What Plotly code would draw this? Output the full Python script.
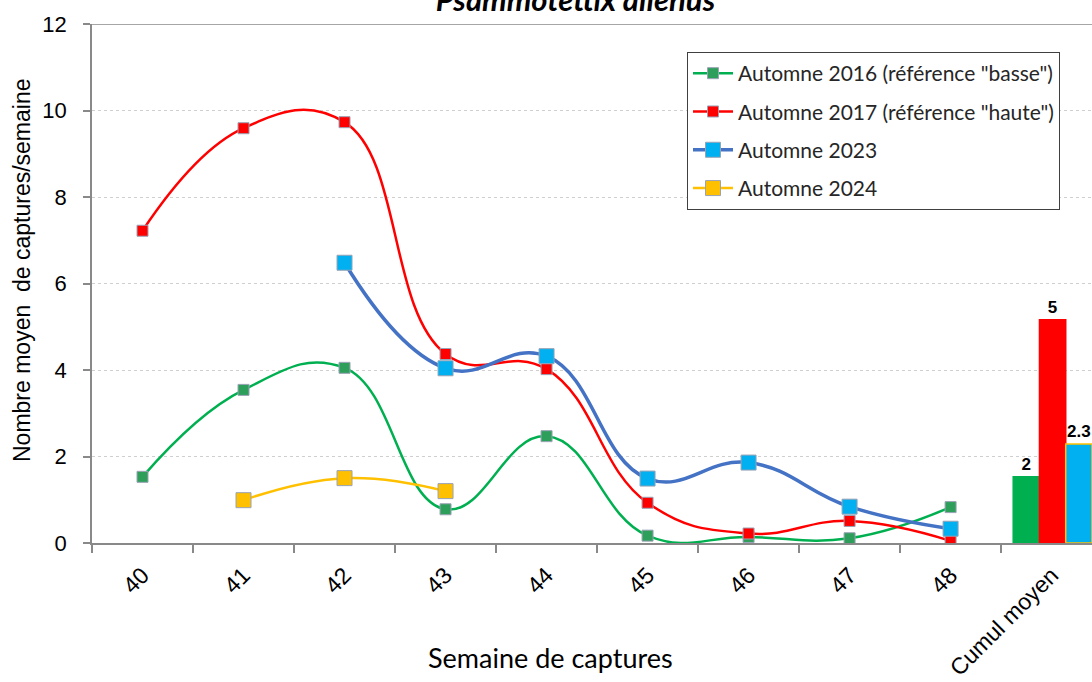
import plotly.graph_objects as go

categories = ["40", "41", "42", "43", "44", "45", "46", "47", "48", "Cumul moyen"]
weeks_x = [0, 1, 2, 3, 4, 5, 6, 7, 8]

s2016 = [1.53, 3.54, 4.05, 0.78, 2.47, 0.17, 0.14, 0.11, 0.83]
s2017 = [7.22, 9.59, 9.73, 4.37, 4.02, 0.93, 0.22, 0.51, 0.05]
s2023 = [None, None, 6.48, 4.04, 4.32, 1.49, 1.86, 0.84, 0.33]
s2024 = [None, 0.99, 1.50, 1.20, None, None, None, None, None]

cumul_x = 9
cumul_vals = [1.53, 5.16, 2.29]
cumul_text = ["2", "5", "2.3"]

names = ['Automne 2016 (référence "basse")', 'Automne 2017 (référence "haute")',
         'Automne 2023', 'Automne 2024']

fig = go.Figure()

mk_line = dict(color="#9aa3b5", width=1)

series = [
    (s2016, names[0], "#00B050", "#2E9E5B", 2.5, 11),
    (s2017, names[1], "#FF0000", "#FF0000", 2.5, 11),
    (s2023, names[2], "#4472C4", "#00B0F0", 3.5, 15),
    (s2024, names[3], "#FFC000", "#FFC000", 2.5, 15),
]
for i, (vals, nm, lc, mc, lw, ms) in enumerate(series):
    fig.add_trace(go.Scatter(
        x=weeks_x, y=vals, name=nm, mode="lines+markers",
        line=dict(color=lc, width=lw, shape="spline", smoothing=1.25),
        marker=dict(symbol="square", size=ms, color=mc, line=mk_line),
        legendgroup=f"g{i}", connectgaps=False,
    ))

bar_colors = ["#00B050", "#FF0000", "#00B0F0"]
bar_lines = ["#00B050", "#FF0000", "#FFC000"]
offsets = [-0.38, -0.12, 0.14]
for v, t, c, lcol, off in zip(cumul_vals, cumul_text, bar_colors, bar_lines, offsets):
    fig.add_trace(go.Bar(
        x=[cumul_x], y=[v], width=0.26, offset=off, text=[t],
        textposition="outside", cliponaxis=False,
        textfont=dict(family="Liberation Sans", size=17, color="#000000", weight="bold"),
        marker=dict(color=c, line=dict(color=lcol, width=1.5)),
        showlegend=False,
    ))

fig.update_layout(
    width=1092, height=682,
    margin=dict(l=92, r=0, t=24, b=139),
    plot_bgcolor="white", paper_bgcolor="white",
    barmode="overlay",
    font=dict(family="Liberation Sans", color="#000000"),
    title=dict(text="<b><i>Psammotettix alienus</i></b>", x=0.527, xanchor="center",
               y=1.0, yanchor="middle", yref="container",
               font=dict(family="Lato", size=31, color="#000000")),
    legend=dict(x=0.595, y=0.946, xanchor="left", yanchor="top",
                bordercolor="#404040", borderwidth=1, bgcolor="white",
                font=dict(family="Lato", size=21, color="#262626"),
                tracegroupgap=8, itemwidth=40),
    showlegend=True,
)

fig.update_xaxes(
    range=[-0.5, 9.4], tickmode="array", tickvals=list(range(10)), ticktext=categories,
    tickangle=-45, ticks="", showgrid=False, zeroline=False,
    showline=True, linecolor="#898989", linewidth=1.5,
    tickfont=dict(family="Liberation Sans", size=23, color="#000000"),
    ticklabelstandoff=8,
    minor=dict(tickvals=[i - 0.5 for i in range(11)], ticks="outside", ticklen=8,
               tickcolor="#898989", tickwidth=1.5, showgrid=False),
)
fig.update_yaxes(
    range=[0, 12], tickvals=[0, 2, 4, 6, 8, 10, 12], ticks="outside", ticklen=7,
    tickcolor="#898989", tickwidth=1.5,
    showline=True, linecolor="#898989", linewidth=1.5, zeroline=False,
    showgrid=True, gridcolor="#CFCFCF", gridwidth=1, griddash="3px,3px",
    tickfont=dict(family="Liberation Sans", size=22, color="#000000"),
    ticklabelstandoff=12,
)

fig.add_shape(type="line", xref="paper", yref="y", x0=0, x1=1, y0=12, y1=12,
              line=dict(color="#898989", width=1.5))

fig.add_annotation(text="Nombre moyen  de captures/semaine", xref="paper", yref="paper",
                   x=-0.07, y=0.526, xanchor="center", yanchor="middle", textangle=-90,
                   showarrow=False, font=dict(family="Liberation Sans", size=23, color="#000000"))
fig.add_annotation(text="Semaine de captures", xref="paper", yref="paper",
                   x=0.458, y=-0.22, xanchor="center", yanchor="middle",
                   showarrow=False, font=dict(family="Lato", size=27, color="#000000"))

fig.write_html("out.html", config={"displayModeBar": False},
               post_script="document.body.style.margin='0';")
